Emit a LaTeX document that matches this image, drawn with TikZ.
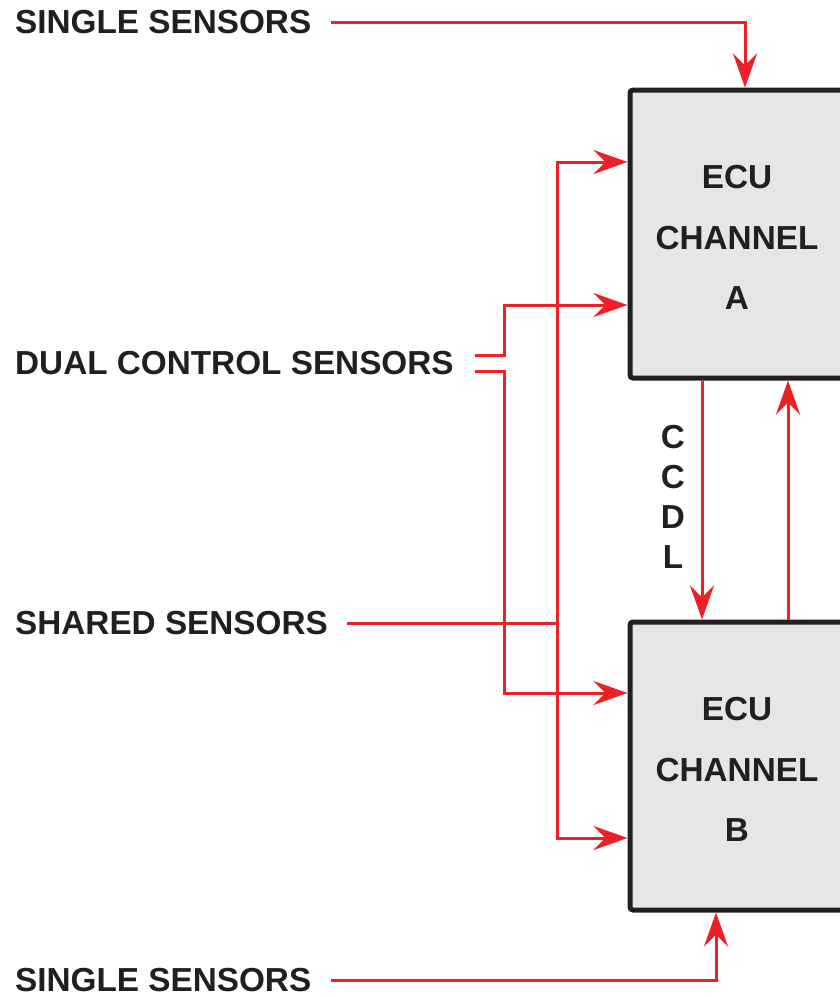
\documentclass[tikz,border=0pt]{standalone}
\usepackage{fontspec}
\setmainfont{Liberation Sans}
\usetikzlibrary{arrows.meta}
\definecolor{ecured}{RGB}{237,32,39}
\definecolor{ecuink}{RGB}{35,31,32}
\definecolor{ecufill}{RGB}{230,230,230}
\begin{document}
\begin{tikzpicture}[x=1pt,y=-1pt,
  lbl/.style={font=\fontsize{33.3}{36}\selectfont\bfseries, text=ecuink, inner sep=0pt},
  ecubox/.style={draw=ecuink, line width=5pt, fill=ecufill, rounded corners=3pt,
    minimum width=320pt, minimum height=288pt, inner sep=0pt},
  wire/.style={draw=ecured, line width=3pt},
  arr/.style={wire, -{Stealth[length=34pt,width=24pt,inset=12pt]}}
]
\useasboundingbox (0,0) rectangle (840,997);
\clip (0,0) rectangle (840,997);

% boxes
\node[ecubox] (A) at (790,234) {};
\node[ecubox] (B) at (790,766) {};

% box texts
\node[lbl] (a1) at (737,177) {ECU};
\node[lbl] (a2) at (737,238) {CHANNEL};
\node[lbl] (a3) at (737,298) {A};
\node[lbl] (b1) at (737,709) {ECU};
\node[lbl] (b2) at (737,770) {CHANNEL};
\node[lbl] (b3) at (737,830) {B};

% CCDL
\node[lbl] (c1) at (673,437) {C};
\node[lbl] (c2) at (673,477) {C};
\node[lbl] (c3) at (673,517) {D};
\node[lbl] (c4) at (673,557) {L};

% left labels
\node[lbl, anchor=west] (s1) at (15,22) {SINGLE SENSORS};
\node[lbl, anchor=west] (dc) at (15,363) {DUAL CONTROL SENSORS};
\node[lbl, anchor=west] (sh) at (15,623) {SHARED SENSORS};
\node[lbl, anchor=west] (s2) at (15,980) {SINGLE SENSORS};

% helper coordinates
\coordinate (tA) at (745,0);
\coordinate (tB) at (716,0);
\coordinate (j) at (557,623);
\coordinate (yA1) at (0,162);
\coordinate (yA2) at (0,305);
\coordinate (yB1) at (0,693);
\coordinate (yB2) at (0,838);
\coordinate (d1) at (475,355);
\coordinate (d2) at (475,371);
\coordinate (dx) at (504,0);
\coordinate (cd) at (702,0);
\coordinate (cu) at (788,0);
\coordinate (x1) at (331,0);
\coordinate (x2) at (347,0);

% single sensors
\draw[arr] (s1.east -| x1) -| (A.north -| tA);
\draw[arr] (s2.east -| x1) -| (B.south -| tB);

% shared sensors
\draw[wire] (sh.east -| x2) -- (j);
\draw[arr] (j) |- (A.west |- yA1);
\draw[arr] (j) |- (B.west |- yB2);

% dual control sensors
\draw[arr] (d1) -- (d1 -| dx) |- (A.west |- yA2);
\draw[arr] (d2) -- (d2 -| dx) |- (B.west |- yB1);

% CCDL links
\draw[arr] (A.south -| cd) -- (B.north -| cd);
\draw[arr] (B.north -| cu) -- (A.south -| cu);
\end{tikzpicture}
\end{document}
